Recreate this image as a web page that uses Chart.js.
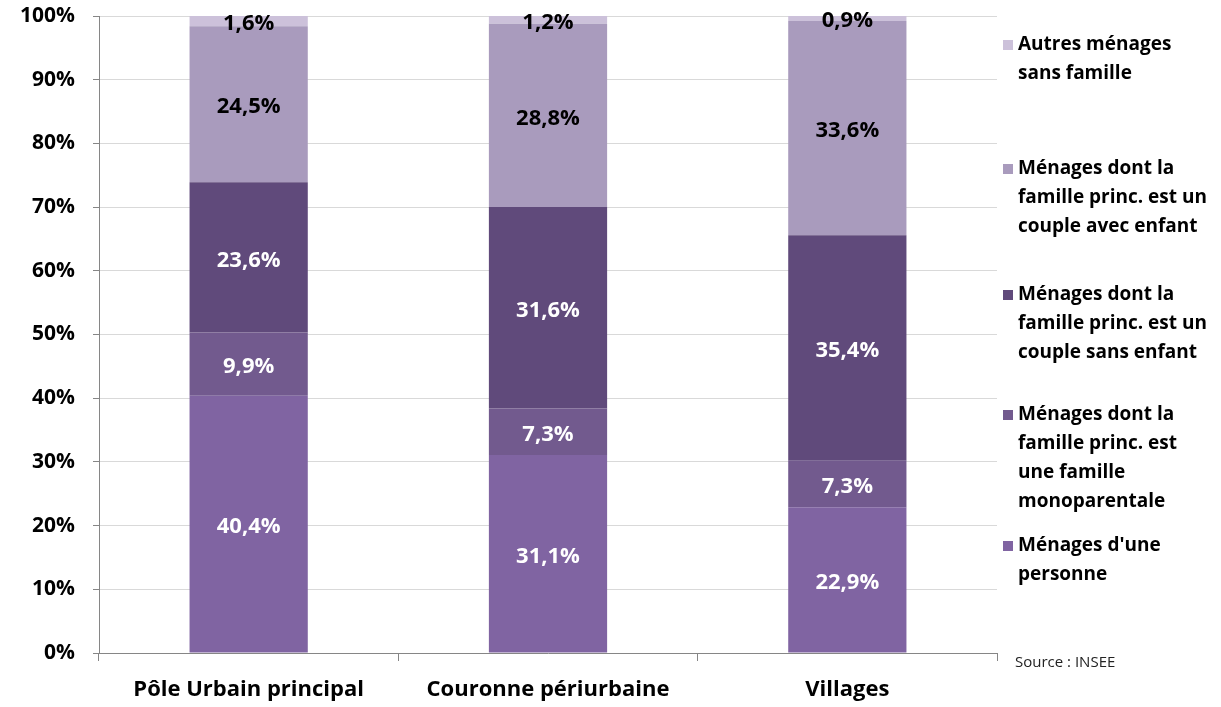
<!DOCTYPE html>
<html>
<head>
<meta charset="utf-8">
<script src="https://cdn.jsdelivr.net/npm/chart.js@4/dist/chart.umd.min.js"></script>
<style>
  html, body { margin: 0; padding: 0; background: #fff; }
  #wrap { width: 1221px; height: 707px; }
</style>
</head>
<body>
<div id="wrap"><canvas id="chart" width="1221" height="707"></canvas></div>
<script>
// données
var categories = ["Pôle Urbain principal", "Couronne périurbaine", "Villages"];
var personneSeule = [40.4, 31.1, 22.9];
var monoparentale = [9.9, 7.3, 7.3];
var coupleSansEnfant = [23.6, 31.6, 35.4];
var coupleAvecEnfant = [24.5, 28.8, 33.6];
var autresSansFamille = [1.6, 1.2, 0.9];
var yTicks = [0, 10, 20, 30, 40, 50, 60, 70, 80, 90, 100];

var legendLines = [
    ["Autres ménages", "sans famille"],
    ["Ménages dont la", "famille princ. est un", "couple avec enfant"],
    ["Ménages dont la", "famille princ. est un", "couple sans enfant"],
    ["Ménages dont la", "famille princ. est", "une famille", "monoparentale"],
    ["Ménages d'une", "personne"]
];
var legendTop = [45, 169, 295, 415, 546];

var FONT = "'Open Sans', sans-serif";

function fmt(v) {
    return v.toFixed(1).replace(".", ",") + "%";
}

var labelsPlugin = {
    id: "labels",
    afterDatasetsDraw: function (chart) {
        var ctx = chart.ctx;
        ctx.save();
        ctx.font = "bold 22px " + FONT;
        ctx.textAlign = "center";
        ctx.textBaseline = "middle";
        chart.data.datasets.forEach(function (ds, i) {
            var meta = chart.getDatasetMeta(i);
            meta.data.forEach(function (bar, j) {
                var y = (bar.y + bar.base) / 2;
                ctx.fillStyle = ds.labelColor;
                ctx.fillText(fmt(ds.data[j]), bar.x, y + 3);
            });
        });
        ctx.restore();
    },
    afterDraw: function (chart) {
        var ctx = chart.ctx;
        ctx.save();
        // légende
        ctx.font = "bold 19px " + FONT;
        ctx.textAlign = "left";
        ctx.textBaseline = "middle";
        legendLines.forEach(function (lines, k) {
            var ds = chart.data.datasets[chart.data.datasets.length - 1 - k];
            var y0 = legendTop[k];
            ctx.fillStyle = ds.backgroundColor;
            ctx.fillRect(1003, y0 - 5, 10, 10);
            ctx.fillStyle = "#000";
            lines.forEach(function (t, n) {
                ctx.fillText(t, 1018, y0 + n * 29);
            });
        });
        // source
        ctx.font = "15px " + FONT;
        ctx.fillStyle = "#222";
        ctx.fillText("Source : INSEE", 1015, 663);
        ctx.restore();
    }
};

new Chart(document.getElementById("chart"), {
    type: "bar",
    data: {
        labels: categories,
        datasets: [
            { label: "Ménages d'une personne", data: personneSeule, backgroundColor: "#8064A2", labelColor: "#fff" },
            { label: "Ménages dont la famille princ. est une famille monoparentale", data: monoparentale, backgroundColor: "#725A8E", labelColor: "#fff" },
            { label: "Ménages dont la famille princ. est un couple sans enfant", data: coupleSansEnfant, backgroundColor: "#604A7B", labelColor: "#fff" },
            { label: "Ménages dont la famille princ. est un couple avec enfant", data: coupleAvecEnfant, backgroundColor: "#A99BBD", labelColor: "#000" },
            { label: "Autres ménages sans famille", data: autresSansFamille, backgroundColor: "#CCC1DA", labelColor: "#000" }
        ]
    },
    options: {
        responsive: false,
        animation: false,
        layout: { padding: { left: 0, right: 224, top: 16, bottom: 0 } },
        datasets: { bar: { categoryPercentage: 1, barPercentage: 0.395 } },
        plugins: {
            legend: { display: false },
            tooltip: { enabled: false }
        },
        scales: {
            x: {
                stacked: true,
                offset: true,
                afterFit: function (s) { s.height = 54; s.paddingLeft = 0; s.paddingRight = 0; },
                grid: { offset: true, drawOnChartArea: false, tickLength: 8, color: "#868686" },
                border: { color: "#868686" },
                ticks: { color: "#000", font: { family: FONT, size: 22, weight: "bold" }, padding: 16 }
            },
            y: {
                stacked: true,
                min: 0,
                max: 100,
                afterFit: function (s) { s.width = 99; s.paddingTop = 0; s.paddingBottom = 0; },
                afterBuildTicks: function (s) { s.ticks = yTicks.map(function (v) { return { value: v }; }); },
                grid: { color: "#d9d9d9", tickColor: "#868686", tickLength: 6 },
                border: { color: "#868686" },
                ticks: {
                    color: "#000",
                    padding: 18,
                    font: { family: FONT, size: 21, weight: "bold" },
                    callback: function (v) { return v + "%"; }
                }
            }
        }
    },
    plugins: [labelsPlugin]
});
</script>
</body>
</html>
